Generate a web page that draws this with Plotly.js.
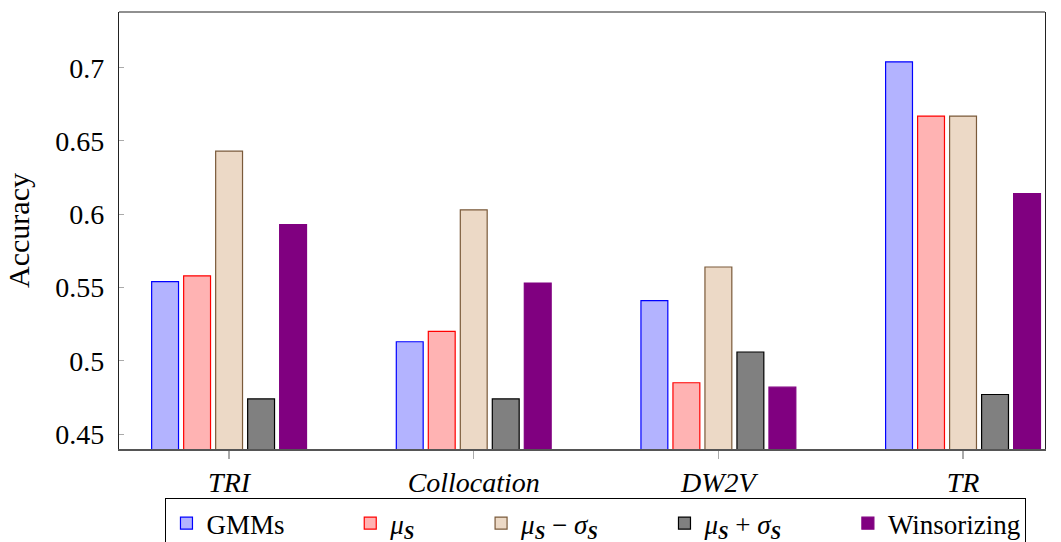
<!DOCTYPE html>
<html>
<head>
<meta charset="utf-8">
<script src="https://cdn.plot.ly/plotly-3.0.1.min.js"></script>
<style>html,body{margin:0;padding:0;background:#fff;}#chart{width:1061px;height:542px;}</style>
</head>
<body>
<div id="chart"></div>
<script>
const categories = ["TRI", "Collocation", "DW2V", "TR"];
const gmms        = [0.554, 0.513, 0.541, 0.704];
const muS         = [0.558, 0.520, 0.485, 0.667];
const muMinusSig  = [0.643, 0.603, 0.564, 0.667];
const muPlusSig   = [0.474, 0.474, 0.506, 0.477];
const winsorizing = [0.593, 0.553, 0.482, 0.614];
const yTicks = [0.45, 0.5, 0.55, 0.6, 0.65, 0.7];
const yTickLabels = ["0.45", "0.5", "0.55", "0.6", "0.65", "0.7"];

const xs = categories.map((c, i) => i);
const serif = "'Liberation Serif', 'DejaVu Serif', serif";
const pad = "&nbsp;&nbsp;&nbsp;&nbsp;&nbsp;&nbsp;&nbsp;&nbsp;&nbsp;";

function bar(name, vals, fill, line) {
  return {
    type: "bar", name: name, x: xs, y: vals,
    marker: {color: fill, line: {color: line, width: 1.2}},
    hoverinfo: "y"
  };
}

const data = [
  bar("GMMs" + pad, gmms, "#b3b3ff", "#0000ff"),
  bar("<i>μ</i><sub><b><i>S</i></b></sub>" + pad, muS, "#ffb3b3", "#ff0000"),
  bar("<i>μ</i><sub><b><i>S</i></b></sub> − <i>σ</i><sub><b><i>S</i></b></sub>" + pad, muMinusSig, "#ecd9c6", "#7a5a3a"),
  bar("<i>μ</i><sub><b><i>S</i></b></sub> + <i>σ</i><sub><b><i>S</i></b></sub>" + pad, muPlusSig, "#808080", "#000000"),
  bar("Winsorizing", winsorizing, "#800080", "#800080")
];

const layout = {
  width: 1061, height: 542,
  margin: {l: 119, r: 16, t: 12, b: 93, autoexpand: false},
  paper_bgcolor: "#ffffff", plot_bgcolor: "#ffffff",
  barmode: "group", bargap: 0.346, bargroupgap: 0.16,
  font: {family: serif, size: 26, color: "#000"},
  showlegend: true,
  legend: {
    orientation: "h", xref: "container", yref: "container",
    x: 0.5617, xanchor: "center", y: 0.081, yanchor: "top",
    bordercolor: "#000", borderwidth: 1, bgcolor: "#fff",
    font: {family: serif, size: 27, color: "#000"},
    itemwidth: 30, tracegroupgap: 0
  },
  xaxis: {
    range: [-0.45, 3.335], tickvals: xs, ticktext: categories.map(c => "<i>" + c + "</i>"),
    ticks: "outside", ticklen: 8, tickcolor: "#aaaaaa", tickwidth: 1.5,
    showline: true, linecolor: "#555555", linewidth: 1.5, mirror: false,
    showgrid: false, zeroline: false,
    tickfont: {family: serif, size: 28, color: "#000"}
  },
  yaxis: {
    range: [0.4398, 0.738], tickvals: yTicks, ticktext: yTickLabels,
    ticks: "inside", ticklen: 5, tickcolor: "#aaaaaa",
    showline: true, linecolor: "#222222", linewidth: 1.2, mirror: true,
    showgrid: false, zeroline: false,
    tickfont: {family: serif, size: 28, color: "#000"},
    ticklabelstandoff: 8,
    title: {text: "Accuracy", font: {family: serif, size: 30, color: "#000"}, standoff: 16}
  },
  shapes: [
    {type: "line", xref: "paper", yref: "paper", x0: 0, x1: 1, y0: 1, y1: 1, line: {color: "#222222", width: 1.2}}
  ]
};

Plotly.newPlot("chart", data, layout, {displayModeBar: false, staticPlot: true});
</script>
</body>
</html>
